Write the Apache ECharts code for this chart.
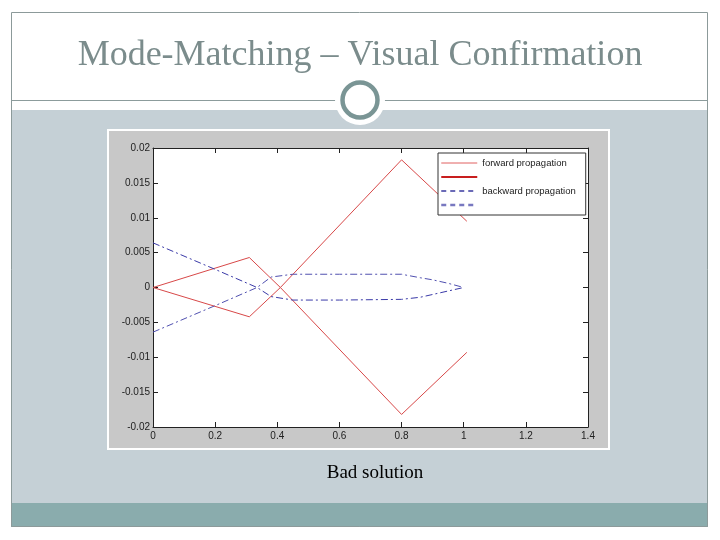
<!DOCTYPE html>
<html>
<head>
<meta charset="utf-8">
<script src="https://cdn.jsdelivr.net/npm/echarts@6/dist/echarts.min.js"></script>
<style>html,body{margin:0;padding:0;background:#fff}#c{width:720px;height:540px}</style>
</head>
<body>
<div id="c"></div>
<script>
// ---- data ----
var titleText = 'Mode-Matching \u2013 Visual Confirmation';
var captionText = 'Bad solution';
var xTicks = [0, 0.2, 0.4, 0.6, 0.8, 1, 1.2, 1.4];
var yTicks = [-0.02, -0.015, -0.01, -0.005, 0, 0.005, 0.01, 0.015, 0.02];
var seriesNames = ['forward propagation', ' ', 'backward propagation', '  '];

var fwdAX = [0, 0.31, 0.41, 0.8, 1.01];
var fwdAY = [0, 0.0043, 0.0, 0.0183, 0.0095];
var fwdBX = [0, 0.31, 0.41, 0.8, 1.01];
var fwdBY = [0, -0.0042, 0.0, -0.0182, -0.0093];

var bwdX  = [0, 0.2, 0.335, 0.38, 0.45, 0.6, 0.8, 0.86, 0.9, 0.95, 1.0];
var bwdAY = [0.0064, 0.0026, 0, -0.0013, -0.0018, -0.0018, -0.0017, -0.0014, -0.0010, -0.0005, 0];
var bwdBY = [-0.0064, -0.0026, 0, 0.0015, 0.0019, 0.0019, 0.0019, 0.0014, 0.0011, 0.0006, 0];

function zip(xs, ys) { return xs.map(function (x, i) { return [x, ys[i]]; }); }
function fmt(v) { return String(+v.toFixed(4)); }

var chart = echarts.init(document.getElementById('c'), null, {renderer: 'canvas'});

var axisBase = {
  type: 'value',
  axisLine: {show: true, onZero: false, lineStyle: {color: '#222', width: 1}},
  axisTick: {show: true, inside: true, length: 5, lineStyle: {color: '#222'}},
  splitLine: {show: false}
};
var hiddenSymbol = {opacity: 0, color: 'rgba(0,0,0,0)', borderWidth: 0};

var option = {
  animation: false,
  backgroundColor: '#ffffff',
  graphic: {
    elements: [
      {type: 'rect', z: -20, shape: {x: 11, y: 110, width: 697, height: 393}, style: {fill: '#c5d0d6'}},
      {type: 'rect', z: -20, shape: {x: 11, y: 503, width: 697, height: 24}, style: {fill: '#8aacad'}},
      {type: 'rect', z: -19, shape: {x: 11.5, y: 12.5, width: 696, height: 514}, style: {fill: 'none', stroke: '#8c9a9a', lineWidth: 1}},
      {type: 'line', z: -19, shape: {x1: 11, y1: 100.5, x2: 708, y2: 100.5}, style: {stroke: '#8c9c9c', lineWidth: 1}},
      {type: 'circle', z: -18, shape: {cx: 360, cy: 100, r: 25}, style: {fill: '#ffffff'}},
      {type: 'circle', z: -17, shape: {cx: 360, cy: 100, r: 17.5}, style: {fill: '#ffffff', stroke: '#7a9595', lineWidth: 4.5}},
      {type: 'text', z: -17, style: {x: 360, y: 56, text: titleText, fill: '#7b8c8c', font: '36px "Liberation Serif", serif', textAlign: 'center', textVerticalAlign: 'middle'}},
      {type: 'rect', z: -16, shape: {x: 107, y: 129, width: 503, height: 321}, style: {fill: '#ffffff'}},
      {type: 'rect', z: -15, shape: {x: 109, y: 131, width: 499, height: 317}, style: {fill: '#c8c8c8'}},
      {type: 'text', z: -15, style: {x: 375, y: 473, text: captionText, fill: '#000000', font: '19px "Liberation Serif", serif', textAlign: 'center', textVerticalAlign: 'middle'}}
    ]
  },
  grid: {left: 153, top: 148, width: 435, height: 279, show: true, backgroundColor: '#ffffff', borderWidth: 0, containLabel: false},
  xAxis: [
    Object.assign({}, axisBase, {
      position: 'bottom', min: xTicks[0], max: xTicks[xTicks.length - 1], interval: 0.2,
      axisLabel: {show: true, formatter: fmt, color: '#222', fontSize: 10, fontFamily: 'Liberation Sans, Arial, sans-serif', margin: 4}
    }),
    Object.assign({}, axisBase, {
      position: 'top', min: xTicks[0], max: xTicks[xTicks.length - 1], interval: 0.2,
      axisLabel: {show: false}
    })
  ],
  yAxis: [
    Object.assign({}, axisBase, {
      position: 'left', min: yTicks[0], max: yTicks[yTicks.length - 1], interval: 0.005,
      axisLabel: {show: true, formatter: fmt, color: '#222', fontSize: 10, fontFamily: 'Liberation Sans, Arial, sans-serif', margin: 3}
    }),
    Object.assign({}, axisBase, {
      position: 'right', min: yTicks[0], max: yTicks[yTicks.length - 1], interval: 0.005,
      axisLabel: {show: false}
    })
  ],
  legend: {
    orient: 'vertical', left: 438, top: 153,
    padding: [5, 10, 5, 2],
    itemWidth: 36, itemHeight: 11, itemGap: 4, itemTextGap: 3,
    backgroundColor: '#ffffff', borderColor: '#333', borderWidth: 1, borderRadius: 0,
    textStyle: {fontSize: 9.5, color: '#222', fontFamily: 'Liberation Sans, Arial, sans-serif'},
    selectedMode: false,
    data: [
      {name: seriesNames[0], itemStyle: hiddenSymbol, lineStyle: {color: '#e06060', width: 1}},
      {name: seriesNames[1], itemStyle: hiddenSymbol, lineStyle: {color: '#c81e1e', width: 2}},
      {name: seriesNames[2], itemStyle: hiddenSymbol, lineStyle: {color: '#3a3aa0', width: 1.5, type: [5, 4]}},
      {name: seriesNames[3], itemStyle: hiddenSymbol, lineStyle: {color: '#7878c0', width: 2.5, type: [5, 4]}}
    ]
  },
  series: [
    {name: seriesNames[0], type: 'line', data: zip(fwdAX, fwdAY), symbol: 'none', lineStyle: {color: '#d84848', width: 1}, itemStyle: {color: '#d84848'}},
    {name: seriesNames[1], type: 'line', data: zip(fwdBX, fwdBY), symbol: 'none', lineStyle: {color: '#d84848', width: 1}, itemStyle: {color: '#c81e1e'}},
    {name: seriesNames[2], type: 'line', data: zip(bwdX, bwdAY), symbol: 'none', lineStyle: {color: '#3a3aa8', width: 1, type: [7, 3, 2, 3]}, itemStyle: {color: '#3a3aa0'}},
    {name: seriesNames[3], type: 'line', data: zip(bwdX, bwdBY), symbol: 'none', lineStyle: {color: '#5050b0', width: 1, type: [7, 3, 2, 3]}, itemStyle: {color: '#7878c0'}}
  ]
};
chart.setOption(option);
</script>
</body>
</html>
